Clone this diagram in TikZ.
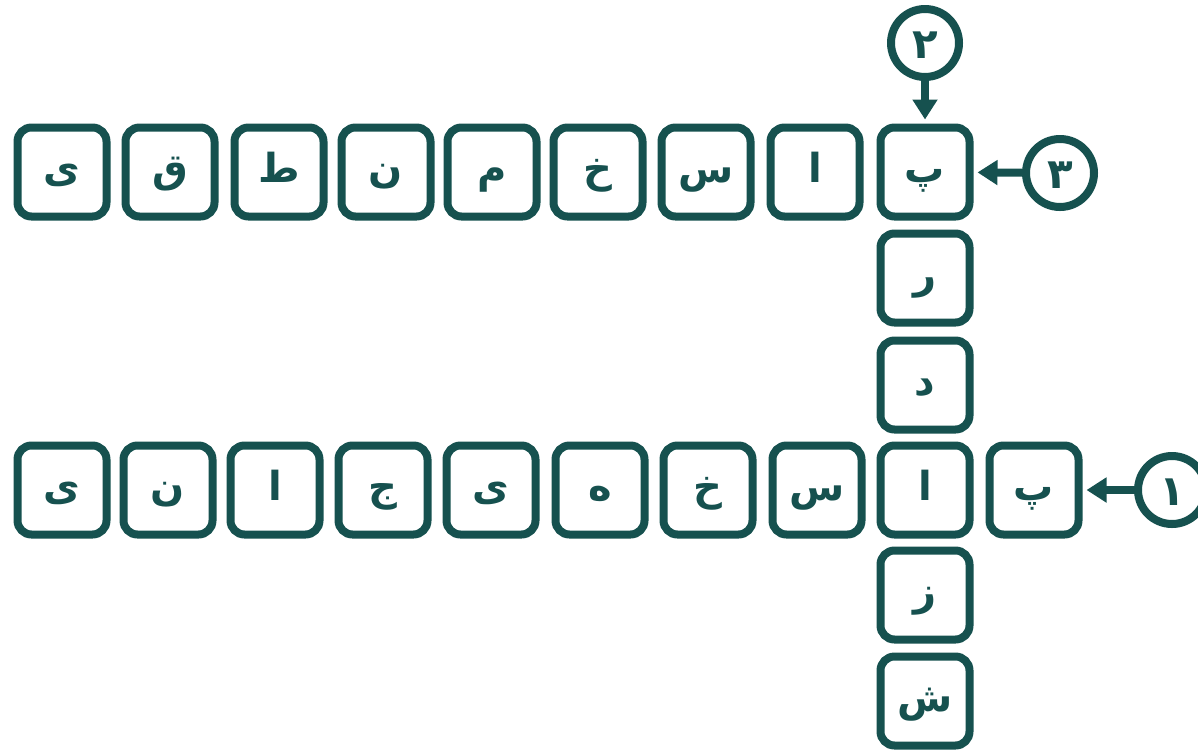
\documentclass[tikz,border=0pt]{standalone}
\usepackage{fontspec}
\usetikzlibrary{arrows.meta}
\TeXXeTstate=1
\newfontfamily\arabicfont[Script=Arabic]{DejaVu Sans}
\definecolor{teal}{HTML}{16514F}
\begin{document}
\begin{tikzpicture}[x=0.5pt, y=-0.5pt,
    cell/.style={draw=teal, line width=4pt, rounded corners=7pt, minimum size=44.5pt,
        inner sep=0pt, text=teal, font=\arabicfont\bfseries\fontsize{20}{24}\selectfont,
        text height=14pt, text depth=4pt},
    num/.style={circle, draw=teal, line width=4pt, minimum size=34pt, inner sep=0pt,
        fill=white, text=teal, font=\arabicfont\bfseries\fontsize{21}{25}\selectfont,
        text height=15pt, text depth=0pt},
    >={Triangle[length=10pt, width=12pt]}]
    \useasboundingbox (0,0) rectangle (1198,751);
    % Down word
    \foreach \name/\y/\ch in {c1/172/پ, c2/278/ر, c3/385/د, c4/490/ا, c5/595/ز, c6/701/ش}
        \node[cell] (\name) at (925,\y) {\beginR\ch\endR};
    % Upper across word
    \foreach \name/\x/\ch in {u1/815/ا, u2/706/س, u3/598/خ, u4/492/م, u5/386/ن, u6/279/ط, u7/170/ق, u8/62/ی}
        \node[cell] (\name) at (\x,172) {\beginR\ch\endR};
    % Lower across word
    \node[cell] (l1) at (1034,490) {\beginR پ\endR};
    \foreach \name/\x/\ch in {l2/817/س, l3/708/خ, l4/600/ه, l5/491/ی, l6/383/ج, l7/275/ا, l8/168/ن, l9/62/ی}
        \node[cell] (\name) at (\x,490) {\beginR\ch\endR};
    % Clue numbers
    \node[num] (n1) at (1172,490) {\beginR ۱\endR};
    \node[num] (n2) at (925,43) {\beginR ۲\endR};
    \node[num] (n3) at (1060,173) {\beginR ۳\endR};
    \draw[->, teal, line width=4pt, shorten >=2pt] (n1) -- (l1);
    \draw[->, teal, line width=4pt, shorten >=2pt] (n2) -- (c1);
    \draw[->, teal, line width=4pt, shorten >=2pt] (n3) -- (c1);
\end{tikzpicture}
\end{document}
